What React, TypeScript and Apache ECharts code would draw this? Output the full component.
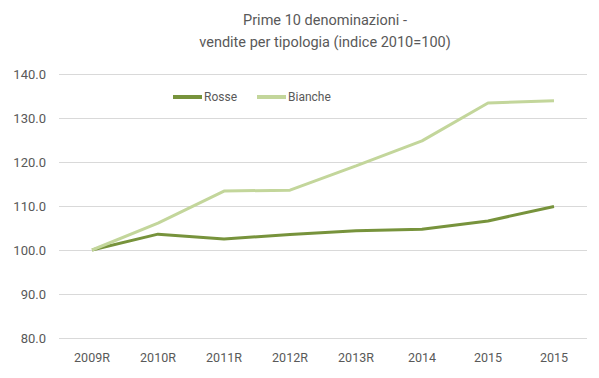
import React, { useEffect, useRef } from "react";
import * as echarts from "echarts";

const categories = ["2009R", "2010R", "2011R", "2012R", "2013R", "2014", "2015", "2015 "];
const rosse = [100.0, 103.6, 102.5, 103.5, 104.4, 104.7, 106.6, 109.9];
const bianche = [100.0, 106.1, 113.4, 113.6, 119.1, 124.8, 133.4, 133.9];
const titleLines = ["Prime 10 denominazioni -", "vendite per tipologia (indice 2010=100)"];

export default function App() {
  const ref = useRef<HTMLDivElement>(null);
  useEffect(() => {
    const chart = echarts.init(ref.current!, null, { renderer: "svg" });
    chart.setOption({
      animation: false,
      backgroundColor: "#ffffff",
      textStyle: { fontFamily: "Roboto" },
      title: {
        text: titleLines.join("\n"),
        left: 320,
        textAlign: "center",
        top: 4,
        textStyle: { fontSize: 14.5, fontWeight: "normal", color: "#595959", lineHeight: 22, fontFamily: "Roboto" },
      },
      legend: {
        left: 168,
        top: 86,
        itemWidth: 29,
        itemHeight: 4,
        itemGap: 20,
        icon: "rect",
        textStyle: { fontSize: 12, color: "#595959", padding: [0, 0, 0, -3] },
        data: ["Rosse", "Bianche"],
      },
      grid: { left: 59, right: 12, top: 74, bottom: 40, containLabel: false },
      xAxis: {
        type: "category",
        data: categories,
        boundaryGap: true,
        axisLine: { show: false },
        axisTick: { show: false },
        axisLabel: { color: "#595959", fontSize: 12.5, margin: 13, formatter: (v: string) => v.trim() },
      },
      yAxis: {
        type: "value",
        min: 80,
        max: 140,
        interval: 10,
        axisLine: { show: false },
        axisTick: { show: false },
        splitLine: { lineStyle: { color: "#d9d9d9", width: 1 } },
        axisLabel: { color: "#595959", fontSize: 13, margin: 13, formatter: (v: number) => v.toFixed(1) },
      },
      series: [
        {
          name: "Rosse",
          type: "line",
          data: rosse,
          symbol: "none",
          lineStyle: { color: "#77933c", width: 3 },
          itemStyle: { color: "#77933c" },
        },
        {
          name: "Bianche",
          type: "line",
          data: bianche,
          symbol: "none",
          lineStyle: { color: "#c3d69b", width: 3 },
          itemStyle: { color: "#c3d69b" },
        },
      ],
    });
    return () => chart.dispose();
  }, []);
  return <div ref={ref} style={{ width: 599, height: 378, position: "absolute", left: 0, top: 0 }} />;
}
